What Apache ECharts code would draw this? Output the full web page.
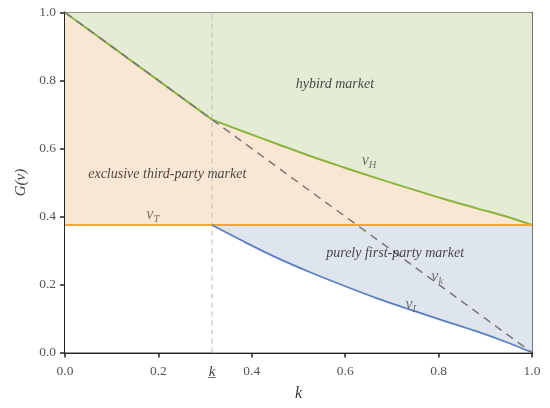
<!DOCTYPE html>
<html>
<head>
<meta charset="utf-8">
<script src="https://cdn.jsdelivr.net/npm/echarts@6/dist/echarts.min.js"></script>
<style>
html,body{margin:0;padding:0;background:#fff;}
#main{width:550px;height:408px;}
</style>
</head>
<body>
<div id="main"></div>
<script>
// ---- data ----
var kBar = 0.315;              // threshold k (underlined)
var vT = 0.375;                // v_T level
var kGrid = [0.315, 0.382, 0.453, 0.525, 0.596, 0.667, 0.739, 0.81, 0.882, 0.95, 1.0];
var vH = [0.685, 0.650, 0.614, 0.578, 0.545, 0.513, 0.482, 0.452, 0.424, 0.398, 0.375];
var vL = [0.375, 0.327, 0.279, 0.236, 0.197, 0.160, 0.126, 0.094, 0.062, 0.028, 0.0];
var vkK = [0, kBar, 1];
var vkV = [1, 0.685, 0];
var xTicks = [0, 0.2, 0.4, 0.6, 0.8, 1.0];

var regionLabels = [
  {name: 'hybird market', x: 0.578, y: 0.79},
  {name: 'exclusive third-party market', x: 0.219, y: 0.525},
  {name: 'purely first-party market', x: 0.707, y: 0.293}
];
var curveLabels = [
  {sub: 'H', x: 0.651, y: 0.563},
  {sub: 'T', x: 0.188, y: 0.404},
  {sub: 'k', x: 0.797, y: 0.222},
  {sub: 'L', x: 0.743, y: 0.14}
];

function zip(xs, ys) { return xs.map(function (x, i) { return [x, ys[i]]; }); }

var vHLine = zip(kGrid, vH);
var vLLine = zip(kGrid, vL);
var leftUpper = [[0, 1], [kBar, vH[0]]];
var leftLower = [[0, vT], [kBar, vT]];

var serif = "'Liberation Serif', 'DejaVu Serif', serif";
var SM = 0.35;

function area(name, data, color, z, smooth) {
  return {
    name: name, type: 'line', data: data, symbol: 'none', silent: true, smooth: smooth || false,
    lineStyle: {width: 0}, areaStyle: {color: color, opacity: 1, origin: 'start'}, z: z
  };
}
function line(name, data, color, width, type, z, smooth) {
  return {
    name: name, type: 'line', data: data, symbol: 'none', silent: true, smooth: smooth || false,
    lineStyle: {color: color, width: width, type: type}, z: z
  };
}

var chart = echarts.init(document.getElementById('main'), null, {renderer: 'canvas'});
var option = {
  animation: false,
  backgroundColor: '#fff',
  grid: {left: 65, right: 18, top: 12.5, bottom: 55.5},
  xAxis: [{
    type: 'value', min: 0, max: 1, interval: 0.2,
    name: 'k', nameLocation: 'middle', nameGap: 33,
    nameTextStyle: {fontFamily: serif, fontStyle: 'italic', fontSize: 16, color: '#333'},
    axisLine: {show: true, onZero: false, lineStyle: {color: '#222', width: 2}},
    axisTick: {show: true, length: 5, lineStyle: {color: '#222', width: 1.5}, customValues: xTicks},
    axisLabel: {
      customValues: [0, 0.2, kBar, 0.4, 0.6, 0.8, 1.0],
      margin: 12,
      fontFamily: serif, fontSize: 13.5, color: '#555',
      formatter: function (v) {
        if (Math.abs(v - kBar) < 1e-6) return '{k|k\u0332}';
        return v.toFixed(1);
      },
      rich: {k: {fontFamily: serif, fontStyle: 'italic', fontSize: 15, color: '#444'}}
    },
    splitLine: {show: false}
  }, {
    type: 'value', min: 0, max: 1, position: 'top',
    axisLine: {show: true, onZero: false, lineStyle: {color: '#444', width: 1.5}},
    axisTick: {show: false}, axisLabel: {show: false}, splitLine: {show: false}
  }],
  yAxis: [{
    type: 'value', min: 0, max: 1, interval: 0.2,
    name: 'G(v)', nameLocation: 'middle', nameGap: 35, nameRotate: 90,
    nameTextStyle: {fontFamily: serif, fontStyle: 'italic', fontSize: 15, color: '#444'},
    axisLine: {show: true, onZero: false, lineStyle: {color: '#222', width: 2}},
    axisTick: {show: true, length: 5, lineStyle: {color: '#222', width: 1.5}},
    axisLabel: {
      margin: 9, fontFamily: serif, fontSize: 13.5, color: '#555',
      formatter: function (v) { return v.toFixed(1); }
    },
    splitLine: {show: false}
  }, {
    type: 'value', min: 0, max: 1, position: 'right',
    axisLine: {show: true, onZero: false, lineStyle: {color: '#444', width: 1.5}},
    axisTick: {show: false}, axisLabel: {show: false}, splitLine: {show: false}
  }],
  series: [
    area('hybrid fill', [[0, 1], [1, 1]], '#e5ecd6', 1),
    area('third-party fill left', leftUpper, '#f9e7d3', 2),
    area('third-party fill right', vHLine, '#f9e7d3', 2, SM),
    area('first-party fill', [[kBar, vT], [1, vT]], '#dfe5ef', 3),
    area('blank fill left', leftLower, '#ffffff', 4),
    area('blank fill right', vLLine, '#ffffff', 4, SM),
    line('k line', [[kBar, 0], [kBar, 1]], '#c4c4c4', 1.2, [5, 4], 5),
    line('upper left', leftUpper, '#8cb33c', 2, 'solid', 6),
    line('vH', vHLine, '#8cb33c', 2, 'solid', 6, SM),
    line('vT', [[0, vT], [1, vT]], '#eea83a', 1.8, 'solid', 6),
    line('vL', vLLine, '#5a7fc0', 1.8, 'solid', 6, SM),
    line('vk', zip(vkK, vkV), '#777777', 1.5, [8, 6], 7),
    {
      name: 'region labels', type: 'scatter', symbolSize: 0, silent: true, z: 10,
      data: regionLabels.map(function (d) { return {value: [d.x, d.y], name: d.name}; }),
      label: {
        show: true, position: 'inside', formatter: '{b}',
        fontFamily: serif, fontStyle: 'italic', fontSize: 14, color: '#1a1a1a'
      }
    },
    {
      name: 'curve labels', type: 'scatter', symbolSize: 0, silent: true, z: 10,
      data: curveLabels.map(function (d) { return {value: [d.x, d.y], name: d.sub}; }),
      label: {
        show: true, position: 'inside',
        formatter: function (p) { return '{v|v}{s|' + p.name + '}'; },
        rich: {
          v: {fontFamily: serif, fontStyle: 'italic', fontSize: 16, color: '#555', lineHeight: 20, verticalAlign: 'middle'},
          s: {fontFamily: serif, fontStyle: 'italic', fontSize: 10.5, color: '#555', lineHeight: 20, verticalAlign: 'bottom'}
        }
      }
    }
  ]
};
chart.setOption(option);
</script>
</body>
</html>
